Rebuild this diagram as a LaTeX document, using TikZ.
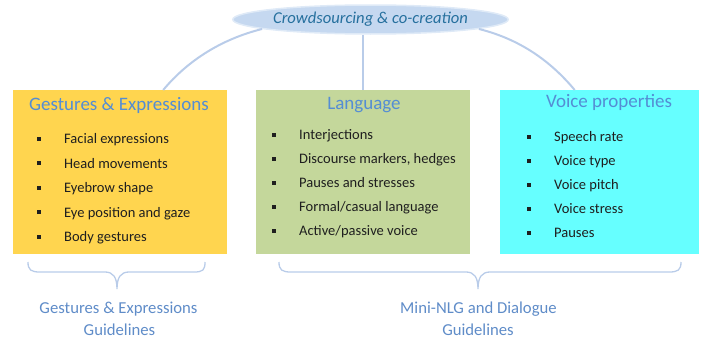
\documentclass[tikz,border=0pt]{standalone}
\usepackage{fontspec}
\setmainfont{Carlito}
\usetikzlibrary{shapes.geometric}
\definecolor{yel}{RGB}{255,213,79}
\definecolor{grn}{RGB}{196,215,155}
\definecolor{cyn}{RGB}{102,255,255}
\definecolor{ttl}{RGB}{84,141,212}
\definecolor{lab}{RGB}{95,140,200}
\definecolor{ln}{RGB}{185,204,233}
\definecolor{ellf}{RGB}{197,216,240}
\definecolor{ellt}{RGB}{38,112,158}
\newcommand{\bul}{\makebox[27pt][l]{\rule[2.8pt]{4pt}{4pt}}}
\begin{document}
\begin{tikzpicture}[x=1pt,y=-1pt,
 box/.style={draw=none, minimum height=164pt, inner sep=0pt, anchor=north west},
 ttlf/.style={font=\fontsize{19}{22}\selectfont, text=ttl, inner sep=0pt, anchor=base},
 item/.style={font=\fontsize{14.5}{17}\selectfont, text=black!88, inner sep=0pt, anchor=base west},
 glab/.style={font=\fontsize{16.7}{20}\selectfont, text=lab, inner sep=0pt, anchor=base},
 conn/.style={draw=ln, line width=2pt},
 brace/.style={draw=ln, line width=1.3pt}]
\useasboundingbox (0,0) rectangle (702,340);

% boxes
\node[box, fill=yel, minimum width=214pt] (ge) at (13,90) {};
\node[box, fill=grn, minimum width=214pt] (lg) at (256,90) {};
\node[box, fill=cyn, minimum width=199pt] (vp) at (500,90) {};

% top ellipse
\node[ellipse, fill=ellf, draw=ellf!55!white, line width=1.5pt, minimum width=203pt,
      minimum height=29pt, inner sep=0pt, font=\fontsize{16.6}{20}\selectfont\itshape,
      text=ellt] (cc) at (370.5,19.5) {Crowdsourcing \& co-creation};

% connectors
\draw[conn] (cc.185) .. controls +(-40,10) and +(25,-30) .. ([xshift=43pt]ge.north);
\draw[conn] (cc.355) .. controls +(40,10) and +(-25,-30) .. ([xshift=-25pt]vp.north);
\draw[conn] (cc.south -| lg.north) -- (lg.north);

% titles
\node[ttlf] (get) at (119,110) {Gestures \& Expressions};
\node[ttlf] (lgt) at (364,109) {Language};
\node[ttlf] (vpt) at (609,107) {Voice properties};

% items
\foreach \t [count=\i] in {Facial expressions, Head movements, Eyebrow shape, Eye position and gaze, Body gestures}
  \node[item] (ge\i) at (37, 143.5+24.5*\i-24.5) {\bul\t};
\foreach \t [count=\i] in {Interjections, {Discourse markers, hedges}, Pauses and stresses, Formal/casual language, Active/passive voice}
  \node[item] (lg\i) at (272, 139.5+24*\i-24) {\bul\t};
\foreach \t [count=\i] in {Speech rate, Voice type, Voice pitch, Voice stress, Pauses}
  \node[item] (vp\i) at (527, 141.5+24*\i-24) {\bul\t};

% braces
\draw[brace] (28,262) .. controls (28,270) and (31,272) .. (40,272) -- (105,272)
  .. controls (113,272) and (117,277) .. (117,289)
  .. controls (117,277) and (121,272) .. (129,272) -- (194,272)
  .. controls (203,272) and (205,270) .. (205,262);
\draw[brace] (279,262) .. controls (279,270) and (282,272) .. (291,272) -- (466,272)
  .. controls (474,272) and (478,277) .. (478,289)
  .. controls (478,277) and (482,272) .. (490,272) -- (669,272)
  .. controls (678,272) and (681,270) .. (681,262);

% bottom labels
\node[glab] (gl1) at (118.5,313) {Gestures \& Expressions};
\node[glab] (gl2) at (119.5,335) {Guidelines};
\node[glab] (ml1) at (478.5,313) {Mini-NLG and Dialogue};
\node[glab] (ml2) at (478,335) {Guidelines};
\end{tikzpicture}
\end{document}
